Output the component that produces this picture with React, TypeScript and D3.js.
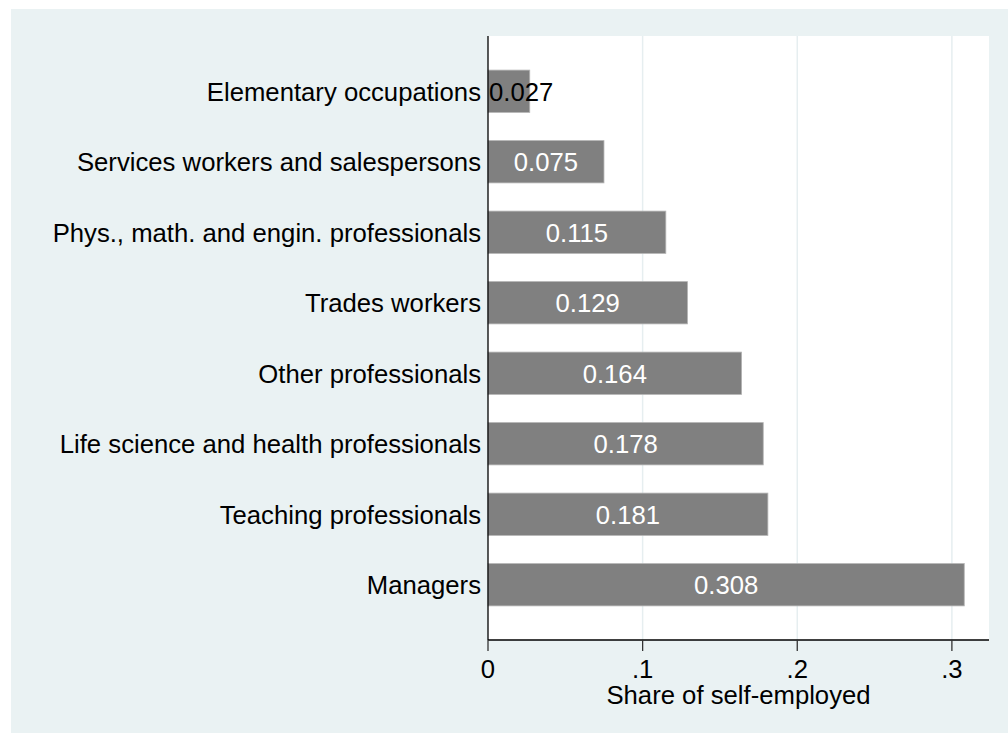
import React from "react";
import * as d3 from "d3";

// categories top to bottom
const categories = [
  "Elementary occupations",
  "Services workers and salespersons",
  "Phys., math. and engin. professionals",
  "Trades workers",
  "Other professionals",
  "Life science and health professionals",
  "Teaching professionals",
  "Managers",
];
const shares = [0.027, 0.075, 0.115, 0.129, 0.164, 0.178, 0.181, 0.308];
const xTicks = [0, 0.1, 0.2, 0.3];
const xTickLabels = ["0", ".1", ".2", ".3"];

const width = 1008;
const height = 733;
const plotLeft = 488;
const plotRight = 989;
const plotTop = 36;
const plotBottom = 640;
const font = "'Liberation Sans', Arial, Helvetica, sans-serif";
const fs = 25.7;

const App: React.FC = () => {
  const x = d3.scaleLinear().domain([0, 0.324]).range([plotLeft, plotRight]);
  const y = d3
    .scaleBand()
    .domain(categories)
    .range([56, 620])
    .paddingInner(0.4)
    .paddingOuter(0.2);

  return (
    <svg
      width={width}
      height={height}
      style={{ position: "absolute", left: 0, top: 0 }}
    >
      <rect x={11} y={9} width={width - 11} height={height - 9} fill="#eaf2f3" />
      <rect
        x={plotLeft}
        y={plotTop}
        width={plotRight - plotLeft}
        height={plotBottom - plotTop}
        fill="#ffffff"
      />
      {/* grid */}
      {xTicks.slice(1).map((t) => (
        <line
          key={"g" + t}
          x1={x(t)}
          x2={x(t)}
          y1={plotTop}
          y2={plotBottom}
          stroke="#e6eef0"
          strokeWidth={1.5}
        />
      ))}
      {/* bars */}
      {categories.map((c, i) => (
        <rect
          key={c}
          x={x(0)}
          y={y(c) as number}
          width={x(shares[i]) - x(0)}
          height={y.bandwidth()}
          fill="#808080"
          stroke="#b4b4b4"
          strokeWidth={0.8}
        />
      ))}
      {/* value labels */}
      {categories.map((c, i) => {
        const cy = (y(c) as number) + y.bandwidth() / 2;
        const w = x(shares[i]) - x(0);
        const inside = w > 70;
        return (
          <text
            key={"v" + c}
            x={inside ? x(0) + w / 2 : x(0) + 1}
            y={cy}
            dy="0.36em"
            textAnchor={inside ? "middle" : "start"}
            fill={inside ? "#ffffff" : "#000000"}
            fontFamily={font}
            fontSize={fs}
          >
            {shares[i].toFixed(3)}
          </text>
        );
      })}
      {/* category labels */}
      {categories.map((c) => (
        <text
          key={"l" + c}
          x={plotLeft - 7}
          y={(y(c) as number) + y.bandwidth() / 2}
          dy="0.36em"
          textAnchor="end"
          fill="#000"
          fontFamily={font}
          fontSize={fs}
        >
          {c}
        </text>
      ))}
      {/* axes */}
      <line x1={plotLeft} x2={plotLeft} y1={plotTop} y2={plotBottom} stroke="#000" strokeWidth={1.3} />
      <line x1={plotLeft} x2={plotRight} y1={plotBottom} y2={plotBottom} stroke="#000" strokeWidth={1.3} />
      {xTicks.map((t, i) => (
        <g key={"t" + t}>
          <line x1={x(t)} x2={x(t)} y1={plotBottom} y2={plotBottom + 11} stroke="#333" strokeWidth={1.3} />
          <text
            x={x(t)}
            y={678}
            textAnchor="middle"
            fill="#000"
            fontFamily={font}
            fontSize={fs}
          >
            {xTickLabels[i]}
          </text>
        </g>
      ))}
      <text
        x={(plotLeft + plotRight) / 2}
        y={704}
        textAnchor="middle"
        fill="#000"
        fontFamily={font}
        fontSize={fs}
      >
        Share of self-employed
      </text>
    </svg>
  );
};

export default App;
